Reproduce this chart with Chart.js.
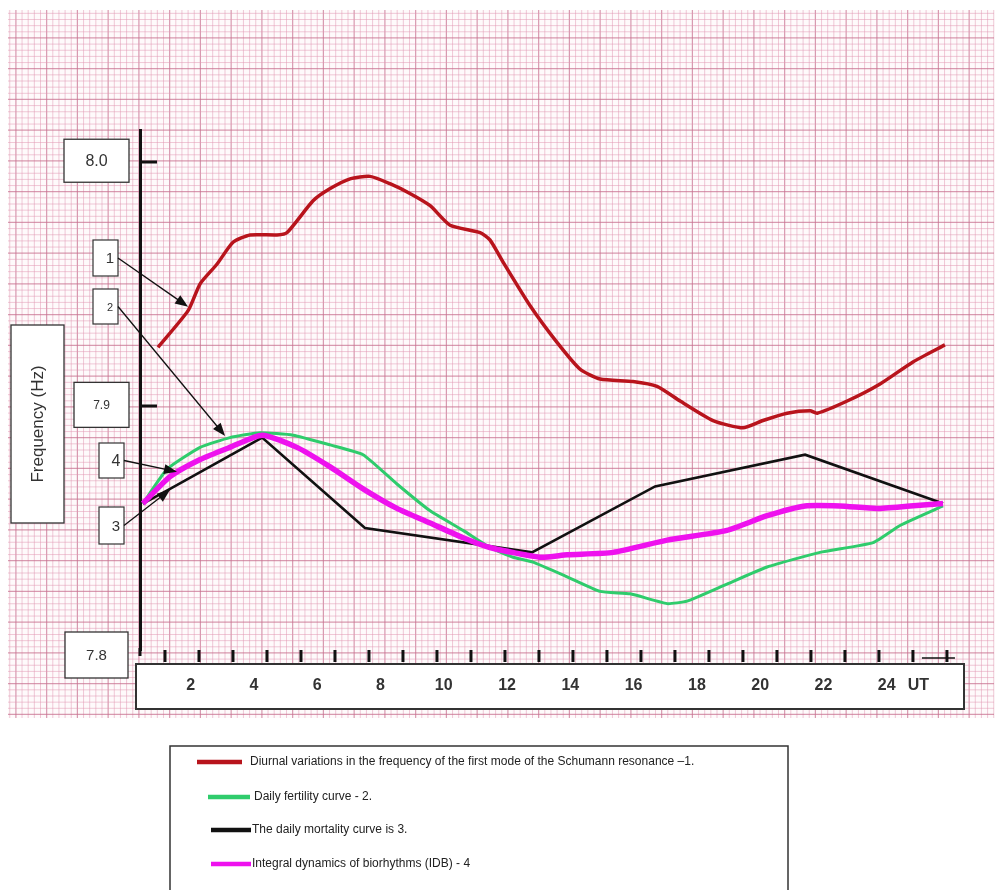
<!DOCTYPE html>
<html>
<head>
<meta charset="utf-8">
<title>Schumann resonance and daily biorhythms</title>
<script src="https://cdn.jsdelivr.net/npm/chart.js@4.4.1/dist/chart.umd.min.js"></script>
<style>
  html, body { margin: 0; padding: 0; background: #fff; }
  canvas { display: block; }
</style>
</head>
<body>
<canvas id="chart" width="998" height="890"></canvas>
<script>
// x in hours (UT), y in Hz
const xTickValues = [2, 4, 6, 8, 10, 12, 14, 16, 18, 20, 22, 24, 25];
const xTickLabels = ['2', '4', '6', '8', '10', '12', '14', '16', '18', '20', '22', '24', 'UT'];
const yTickValues = [7.8, 7.9, 8.0];
const yTickLabels = ['7.8', '7.9', '8.0'];
const hourMarks = [1, 2, 3, 4, 5, 6, 7, 8, 9, 10, 11, 12, 13, 14, 15, 16, 17, 18, 19, 20, 21, 22, 23, 24];

const seriesNames = [
    'Diurnal variations in the frequency of the first mode of the Schumann resonance \u20131.',
    'Daily fertility curve - 2.',
    'The daily mortality curve is 3.',
    'Integral dynamics of biorhythms (IDB) - 4'
];

// 1 - Schumann resonance
const redHours = [0.97, 1.92, 2.30, 2.83, 3.34, 3.88, 4.73, 5.05, 5.87, 6.41, 7.04, 7.67, 8.30, 8.93, 9.57, 10.20, 11.15, 11.46, 11.87, 12.73,
    13.58, 14.31, 14.94, 15.98, 16.74, 17.47, 18.51, 19.46, 20.09, 20.85, 21.58, 21.80, 22.75, 23.79, 24.83, 25.84];
const redFreq = [7.924, 7.939, 7.950, 7.958, 7.967, 7.970, 7.970, 7.971, 7.984, 7.989, 7.993, 7.994, 7.991, 7.987, 7.982, 7.974, 7.971, 7.968, 7.959, 7.941,
    7.926, 7.915, 7.911, 7.910, 7.908, 7.902, 7.894, 7.891, 7.894, 7.897, 7.898, 7.897, 7.902, 7.909, 7.918, 7.925];

// 2 - fertility
const greenHours = [0.49, 1.25, 2.30, 3.24, 4.19, 5.24, 6.41, 7.45, 8.52, 9.57, 10.61, 11.46, 12.19, 12.82, 13.90, 14.94, 15.89, 17.06, 17.69, 18.95,
    20.22, 21.89, 23.57, 24.42, 25.78];
const greenFreq = [7.860, 7.874, 7.883, 7.887, 7.889, 7.888, 7.884, 7.880, 7.868, 7.857, 7.849, 7.842, 7.838, 7.836, 7.830, 7.824, 7.823, 7.819, 7.820, 7.827,
    7.834, 7.840, 7.844, 7.851, 7.859];

// 3 - mortality
const blackHours = [0.49, 1.35, 4.26, 7.51, 12.79, 16.68, 21.42, 25.78];
const blackFreq = [7.860, 7.866, 7.887, 7.850, 7.840, 7.867, 7.880, 7.860];

// 4 - IDB
const magentaHours = [0.49, 1.35, 2.30, 3.24, 4.26, 5.36, 6.41, 7.45, 8.52, 9.57, 10.61, 11.46, 13.04, 13.90, 15.35, 17.06, 18.95, 20.22, 21.42, 22.52,
    23.69, 24.74, 25.78];
const magentaFreq = [7.860, 7.871, 7.878, 7.883, 7.888, 7.883, 7.875, 7.866, 7.858, 7.852, 7.846, 7.842, 7.838, 7.839, 7.840, 7.845, 7.849, 7.855, 7.859, 7.859,
    7.858, 7.859, 7.860];

function points(xs, ys) {
    return xs.map((x, i) => ({ x: x, y: ys[i] }));
}

// numbered callouts: box in pixels, arrow tip in data units
const callouts = [
    { text: '1', box: [93, 240, 25, 36], size: 15, tip: [1.92, 7.9406] },
    { text: '2', box: [93, 289, 25, 35], size: 11, tip: [3.09, 7.8877] },
    { text: '4', box: [99, 443, 25, 35], size: 16, tip: [1.57, 7.8730] },
    { text: '3', box: [99, 507, 25, 37], size: 15, tip: [1.35, 7.8656] }
];
// boxes holding the y tick labels
const yBoxes = [
    { x: 65, w: 63, h: 46, dy: 5, size: 15 },
    { x: 74, w: 55, h: 45, dy: -1, size: 12 },
    { x: 64, w: 65, h: 43, dy: -1, size: 16 }
];
const legendRows = [
    { x1: 197, x2: 242, y: 762, tx: 250 },
    { x1: 208, x2: 250, y: 797, tx: 254 },
    { x1: 211, x2: 251, y: 830, tx: 252 },
    { x1: 211, x2: 251, y: 864, tx: 252 }
];

function arrow(ctx, x1, y1, x2, y2) {
    const a = Math.atan2(y2 - y1, x2 - x1);
    ctx.beginPath();
    ctx.moveTo(x1, y1);
    ctx.lineTo(x2 - 9 * Math.cos(a), y2 - 9 * Math.sin(a));
    ctx.stroke();
    ctx.beginPath();
    ctx.moveTo(x2, y2);
    ctx.lineTo(x2 - 13 * Math.cos(a) + 5 * Math.sin(a), y2 - 13 * Math.sin(a) - 5 * Math.cos(a));
    ctx.lineTo(x2 - 13 * Math.cos(a) - 5 * Math.sin(a), y2 - 13 * Math.sin(a) + 5 * Math.cos(a));
    ctx.closePath();
    ctx.fill();
}

function box(ctx, x, y, w, h, lw) {
    ctx.fillStyle = '#fff';
    ctx.fillRect(x, y, w, h);
    ctx.lineWidth = lw || 1.3;
    ctx.strokeStyle = '#333';
    ctx.strokeRect(x, y, w, h);
}

const paperPlugin = {
    id: 'paper',
    beforeDraw(chart) {
        const ctx = chart.ctx;
        ctx.save();
        ctx.fillStyle = '#fff';
        ctx.fillRect(0, 0, chart.width, chart.height);
        // graph paper
        const L = 8, T = 10, R = 994, B = 718;
        ctx.fillStyle = '#fefafb';
        ctx.fillRect(L, T, R - L, B - T);
        const step = 6.15;
        const minorCol = 'rgba(226,150,178,0.5)', majorCol = 'rgba(200,112,144,0.7)';
        for (let k = -2; L + k * step < R + 1; k++) {
            const x = 15.9 + (k - 1) * step;
            if (x < L || x > R) continue;
            const major = ((k - 1) % 5 + 5) % 5 === 0;
            ctx.strokeStyle = major ? majorCol : minorCol;
            ctx.lineWidth = major ? 1.2 : 1;
            ctx.beginPath(); ctx.moveTo(x, T); ctx.lineTo(x, B); ctx.stroke();
        }
        for (let k = -2; T + k * step < B + 1; k++) {
            const y = 7.2 + k * step;
            if (y < T || y > B) continue;
            const major = (k % 5 + 5) % 5 === 0;
            ctx.strokeStyle = major ? majorCol : minorCol;
            ctx.lineWidth = major ? 1.2 : 1;
            ctx.beginPath(); ctx.moveTo(L, y); ctx.lineTo(R, y); ctx.stroke();
        }

        // box for the x tick labels
        box(ctx, 136, 664, 828, 45, 2);

        // y label boxes
        const ys = chart.scales.y;
        yTickValues.forEach((v, i) => {
            const b = yBoxes[i];
            const py = ys.getPixelForValue(v) + b.dy;
            box(ctx, b.x, py - b.h / 2, b.w, b.h, 1.3);
            ctx.fillStyle = '#333';
            ctx.font = b.size + 'px "Liberation Sans", Arial, sans-serif';
            ctx.textAlign = 'center';
            ctx.textBaseline = 'middle';
            ctx.fillText(yTickLabels[i], b.x + b.w / 2, py + 1);
        });

        // axis title box
        box(ctx, 11, 325, 53, 198, 1.3);
        ctx.save();
        ctx.translate(38, 424);
        ctx.rotate(-Math.PI / 2);
        ctx.fillStyle = '#333';
        ctx.font = '17px "Liberation Sans", Arial, sans-serif';
        ctx.textAlign = 'center';
        ctx.textBaseline = 'middle';
        ctx.fillText('Frequency (Hz)', 0, 0);
        ctx.restore();

        // tick marks on y axis
        ctx.strokeStyle = '#111';
        ctx.lineWidth = 3;
        yTickValues.forEach(v => {
            if (v <= ys.min) return;
            const py = Math.round(ys.getPixelForValue(v));
            ctx.beginPath(); ctx.moveTo(chart.chartArea.left, py); ctx.lineTo(chart.chartArea.left + 17, py); ctx.stroke();
        });
        // y axis continues a little below the last tick
        ctx.beginPath(); ctx.moveTo(chart.chartArea.left, chart.chartArea.bottom - 2); ctx.lineTo(chart.chartArea.left, chart.chartArea.bottom + 6); ctx.stroke();
        // hour marks along the bottom
        const x2 = chart.scales.x2;
        const bottom = chart.chartArea.bottom;
        hourMarks.forEach(h => {
            const px = x2.getPixelForValue(h);
            ctx.beginPath(); ctx.moveTo(px, bottom); ctx.lineTo(px, bottom + 12); ctx.stroke();
        });
        const last = x2.getPixelForValue(hourMarks[hourMarks.length - 1]);
        ctx.lineWidth = 1.5;
        ctx.beginPath(); ctx.moveTo(last - 25, bottom + 8); ctx.lineTo(last + 8, bottom + 8); ctx.stroke();
        ctx.restore();
    },
    afterDraw(chart) {
        const ctx = chart.ctx;
        const xs = chart.scales.x, ys = chart.scales.y;
        ctx.save();
        // callouts
        callouts.forEach(c => {
            const [bx, by, bw, bh] = c.box;
            box(ctx, bx, by, bw, bh, 1.2);
            ctx.fillStyle = '#333';
            ctx.font = c.size + 'px "Liberation Sans", Arial, sans-serif';
            ctx.textAlign = 'center';
            ctx.textBaseline = 'middle';
            ctx.fillText(c.text, bx + bw * 0.68, by + bh / 2 + 1);
            ctx.strokeStyle = '#111';
            ctx.fillStyle = '#111';
            ctx.lineWidth = 1.3;
            arrow(ctx, bx + bw, by + bh / 2, xs.getPixelForValue(c.tip[0]), ys.getPixelForValue(c.tip[1]));
        });

        // legend
        ctx.lineWidth = 1.5;
        ctx.strokeStyle = '#333';
        ctx.strokeRect(170, 746, 618, 160);
        chart.data.datasets.forEach((ds, i) => {
            const r = legendRows[i];
            ctx.strokeStyle = ds.borderColor;
            ctx.lineWidth = 4.5;
            ctx.beginPath(); ctx.moveTo(r.x1, r.y); ctx.lineTo(r.x2, r.y); ctx.stroke();
            ctx.fillStyle = '#222';
            ctx.font = '12px "Liberation Sans", Arial, sans-serif';
            ctx.textAlign = 'left';
            ctx.textBaseline = 'middle';
            ctx.fillText(ds.label, r.tx, r.y);
        });
        ctx.restore();
    }
};

const ctx = document.getElementById('chart').getContext('2d');
const chart = new Chart(ctx, {
    type: 'line',
    data: {
        datasets: [{
            label: seriesNames[0],
            data: points(redHours, redFreq),
            borderColor: '#b8141c',
            borderWidth: 3.5,
            tension: 0.2,
            order: 0
        }, {
            label: seriesNames[1],
            data: points(greenHours, greenFreq),
            borderColor: '#2fcc6c',
            borderWidth: 3,
            tension: 0.15,
            order: 3
        }, {
            label: seriesNames[2],
            data: points(blackHours, blackFreq),
            borderColor: '#111111',
            borderWidth: 2.6,
            tension: 0,
            order: 2
        }, {
            label: seriesNames[3],
            data: points(magentaHours, magentaFreq),
            borderColor: '#ee11ee',
            borderWidth: 5.5,
            tension: 0.2,
            order: 1
        }]
    },
    options: {
        responsive: false,
        animation: false,
        events: [],
        elements: { point: { radius: 0 } },
        layout: { padding: { left: 140, right: 48, top: 130, bottom: 180 } },
        scales: {
            x: {
                type: 'linear',
                min: 0.4,
                max: 26,
                afterBuildTicks: s => { s.ticks = xTickValues.map(v => ({ value: v })); },
                afterFit: s => { s.height = 60; },
                grid: { display: false, drawTicks: false },
                border: { display: false },
                ticks: {
                    callback: (v, i) => xTickLabels[i],
                    autoSkip: false,
                    maxRotation: 0,
                    padding: 26,
                    color: '#333',
                    font: { family: '"Liberation Sans", Arial, sans-serif', weight: 'bold', size: 16 }
                }
            },
            x2: {
                type: 'linear',
                display: false,
                min: 0.265,
                max: 24.09
            },
            y: {
                type: 'linear',
                min: 7.8,
                max: 8.013,
                afterBuildTicks: s => { s.ticks = yTickValues.map(v => ({ value: v })); },
                afterFit: s => { s.width = 0; },
                grid: { display: false, drawTicks: false },
                border: { display: true, color: '#111', width: 3 },
                ticks: { display: false }
            }
        },
        plugins: {
            legend: { display: false },
            tooltip: { enabled: false }
        }
    },
    plugins: [paperPlugin]
});
</script>
</body>
</html>
